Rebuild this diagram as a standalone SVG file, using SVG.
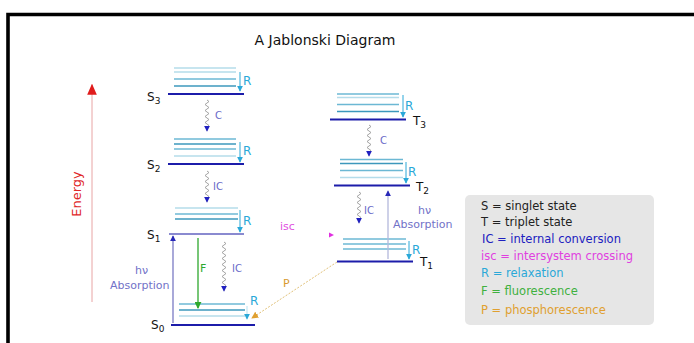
<svg xmlns="http://www.w3.org/2000/svg" width="694" height="343" viewBox="0 0 694 343">
  <style>
    text { font-family: "DejaVu Sans", "Liberation Sans", sans-serif; }
    .title { font-size: 14px; fill: #111; }
    .lvl { stroke: #1c1caa; stroke-width: 2.2; }
    .sub1 { stroke: #b4dcea; stroke-width: 1.3; }
    .sub2 { stroke: #6cb8d4; stroke-width: 1.3; }
    .sub3 { stroke: #3c98bc; stroke-width: 1.3; }
    .st { font-size: 12px; fill: #111; }
    .st tspan { font-size: 9px; }
    .rarr { stroke: #2aa8d8; stroke-width: 1; fill: none; marker-end: url(#mR); }
    .rlab { font-size: 12px; fill: #2aa8d8; }
    .wavy { stroke: #9a9a9a; stroke-width: 0.9; fill: none; marker-end: url(#mW); }
    .iclab { font-size: 10px; fill: #6a6ac8; }
    .abs { font-size: 11px; fill: #7272c8; }
    .leg { font-size: 11.5px; }
  </style>
  <defs>
    <marker id="mR" viewBox="0 0 8 8" refX="7" refY="4" markerWidth="6" markerHeight="6" markerUnits="userSpaceOnUse" orient="auto">
      <path d="M0,0 L8,4 L0,8 z" fill="#2aa8d8"/>
    </marker>
    <marker id="mW" viewBox="0 0 8 8" refX="7" refY="4" markerWidth="6" markerHeight="6" markerUnits="userSpaceOnUse" orient="auto">
      <path d="M0,0 L8,4 L0,8 z" fill="#2020c0"/>
    </marker>
    <marker id="mA" viewBox="0 0 8 8" refX="7" refY="4" markerWidth="6" markerHeight="6" markerUnits="userSpaceOnUse" orient="auto">
      <path d="M0,0 L8,4 L0,8 z" fill="#2828b8"/>
    </marker>
    <marker id="mF" viewBox="0 0 8 8" refX="7" refY="4" markerWidth="7" markerHeight="7" markerUnits="userSpaceOnUse" orient="auto">
      <path d="M0,0 L8,4 L0,8 z" fill="#2ea82e"/>
    </marker>
    <marker id="mP" viewBox="0 0 8 8" refX="7" refY="4" markerWidth="7" markerHeight="7" markerUnits="userSpaceOnUse" orient="auto">
      <path d="M0,0 L8,4 L0,8 z" fill="#e0a030"/>
    </marker>
    <marker id="mE" viewBox="0 0 8 8" refX="7" refY="4" markerWidth="11" markerHeight="11" markerUnits="userSpaceOnUse" orient="auto">
      <path d="M0,0.5 L8,4 L0,7.5 z" fill="#e01c1c"/>
    </marker>
  </defs>

  <!-- frame -->
  <path d="M8,343 V14.5 H694" fill="none" stroke="#000" stroke-width="3.6"/>

  <text class="title" x="325" y="45" text-anchor="middle">A Jablonski Diagram</text>

  <!-- energy axis -->
  <g id="energy-axis">
    <line x1="92" y1="302" x2="92" y2="85" stroke="#e8a4a4" stroke-width="1" marker-end="url(#mE)"/>
    <text x="0" y="0" transform="translate(81,194) rotate(-90)" text-anchor="middle" font-size="13" fill="#e02828">Energy</text>
  </g>

  <!-- singlet manifold -->
  <g id="S3">
    <line class="sub1" x1="174" y1="68" x2="236" y2="68"/>
    <line class="sub1" x1="174" y1="72" x2="236" y2="72"/>
    <line class="sub2" x1="174" y1="79" x2="236" y2="79"/>
    <line class="sub3" x1="174" y1="86" x2="236" y2="86"/>
    <line class="lvl" x1="168" y1="94" x2="244" y2="94"/>
    <text class="st" x="147" y="101">S<tspan dy="3">3</tspan></text>
  </g>
  <g id="S2">
    <line class="sub2" x1="174" y1="139" x2="236" y2="139"/>
    <line class="sub3" x1="174" y1="144" x2="236" y2="144"/>
    <line class="sub2" x1="174" y1="149" x2="236" y2="149"/>
    <line class="sub1" x1="174" y1="156" x2="236" y2="156"/>
    <line class="lvl" x1="168" y1="164" x2="244" y2="164"/>
    <text class="st" x="147" y="169">S<tspan dy="3">2</tspan></text>
  </g>
  <g id="S1">
    <line class="sub1" x1="175" y1="208" x2="238" y2="208"/>
    <line class="sub2" x1="175" y1="214" x2="238" y2="214"/>
    <line class="sub3" x1="175" y1="219" x2="238" y2="219"/>
    <line x1="169" y1="234" x2="244" y2="234" stroke="#8a8ad0" stroke-width="2"/>
    <text class="st" x="147" y="239">S<tspan dy="3">1</tspan></text>
  </g>
  <g id="S0">
    <line class="sub2" x1="179" y1="304" x2="245" y2="304"/>
    <line class="sub3" x1="179" y1="310" x2="245" y2="310"/>
    <line class="sub1" x1="179" y1="316" x2="245" y2="316"/>
    <line class="lvl" x1="171" y1="325" x2="255" y2="325"/>
    <text class="st" x="151" y="329">S<tspan dy="3">0</tspan></text>
  </g>

  <!-- triplet manifold -->
  <g id="T3">
    <line class="sub2" x1="337" y1="94" x2="399" y2="94"/>
    <line class="sub1" x1="337" y1="97.5" x2="399" y2="97.5"/>
    <line class="sub2" x1="337" y1="104.5" x2="399" y2="104.5"/>
    <line class="sub3" x1="337" y1="111.5" x2="399" y2="111.5"/>
    <line class="lvl" x1="330" y1="119.5" x2="406" y2="119.5"/>
    <text class="st" x="413" y="125">T<tspan dy="3">3</tspan></text>
  </g>
  <g id="T2">
    <line class="sub2" x1="340" y1="159.5" x2="403" y2="159.5"/>
    <line class="sub3" x1="340" y1="163.5" x2="403" y2="163.5"/>
    <line class="sub2" x1="340" y1="170.5" x2="403" y2="170.5"/>
    <line class="sub1" x1="340" y1="177.5" x2="403" y2="177.5"/>
    <line class="lvl" x1="334" y1="185.5" x2="410" y2="185.5"/>
    <text class="st" x="416" y="191">T<tspan dy="3">2</tspan></text>
  </g>
  <g id="T1">
    <line class="sub2" x1="343" y1="239" x2="406" y2="239"/>
    <line class="sub2" x1="343" y1="244" x2="406" y2="244"/>
    <line class="sub2" x1="343" y1="249" x2="406" y2="249"/>
    <line class="lvl" x1="337" y1="261.5" x2="413" y2="261.5"/>
    <text class="st" x="420" y="266">T<tspan dy="3">1</tspan></text>
  </g>

  <!-- transitions -->
  <g id="connectors">
    <!-- vibrational relaxation -->
    <path class="rarr" d="M240,72 V91"/>
    <path class="rarr" d="M240,142 V162"/>
    <path class="rarr" d="M240,210 V232"/>
    <path class="rarr" d="M247,306 V319" stroke-opacity="0.35"/>
    <path class="rarr" d="M403,95 V117"/>
    <path class="rarr" d="M406,162 V183"/>
    <path class="rarr" d="M409,241 V259"/>

    <!-- internal conversion -->
    <path class="wavy" d="M207,100 l2,1.5 l-4,3 l4,3 l-4,3 l4,3 l-4,3 l4,3 l-4,3 l4,3 l-2,1.5 v4"/>
    <path class="wavy" d="M207,171 l2,1.5 l-4,3 l4,3 l-4,3 l4,3 l-4,3 l4,3 l-4,3 l4,3 l-2,1.5 v4"/>
    <path class="wavy" d="M224,242 l2,1.5 l-4,3 l4,3 l-4,3 l4,3 l-4,3 l4,3 l-4,3 l4,3 l-4,3 l4,3 l-4,3 l4,3 l-4,3 l4,3 l-2,1.5 v4"/>
    <path class="wavy" d="M369,125 l2,1.5 l-4,3 l4,3 l-4,3 l4,3 l-4,3 l4,3 l-4,3 l4,3 l-2,1.5 v4"/>
    <path class="wavy" d="M359,192 l2,1.5 l-4,3 l4,3 l-4,3 l4,3 l-4,3 l4,3 l-4,3 l4,3 l-2,1.5 v4"/>

    <!-- absorption -->
    <line x1="173" y1="323" x2="173" y2="236" stroke="#7a7ac4" stroke-width="1.3" marker-end="url(#mA)"/>
    <line x1="388" y1="259" x2="388" y2="191" stroke="#b4b8dc" stroke-width="1.3" marker-end="url(#mA)"/>

    <!-- fluorescence -->
    <line x1="198" y1="238" x2="198" y2="308" stroke="#2ea82e" stroke-width="1.3" marker-end="url(#mF)"/>

    <!-- phosphorescence -->
    <line x1="337" y1="262" x2="252" y2="318" stroke="#e2c27a" stroke-width="1" stroke-dasharray="2,1.5" marker-end="url(#mP)"/>

    <!-- intersystem crossing -->
    <path d="M329,232.5 L334,235 L329,237.5 z" fill="#e030e0"/>
  </g>

  <!-- transition labels -->
  <g id="labels">
    <text class="rlab" x="243" y="85">R</text>
    <text class="rlab" x="243" y="155">R</text>
    <text class="rlab" x="243" y="225">R</text>
    <text class="rlab" x="250" y="305">R</text>
    <text class="rlab" x="405" y="110">R</text>
    <text class="rlab" x="408" y="176">R</text>
    <text class="rlab" x="412" y="254">R</text>
    <text class="iclab" x="215" y="119">C</text>
    <text class="iclab" x="213" y="190">IC</text>
    <text class="iclab" x="232" y="272">IC</text>
    <text class="iclab" x="380" y="144">C</text>
    <text class="iclab" x="364" y="214">IC</text>
    <text class="abs" x="135" y="274">hν</text>
    <text class="abs" x="110" y="289">Absorption</text>
    <text class="abs" x="418" y="214">hν</text>
    <text class="abs" x="393" y="228">Absorption</text>
    <text x="200" y="272" font-size="11" fill="#2ea82e">F</text>
    <text x="283" y="287" font-size="11" fill="#d89a30">P</text>
    <text x="280" y="230" font-size="11" fill="#e050e0">isc</text>
  </g>

  <!-- legend -->
  <g id="legend">
    <rect x="465" y="195" width="189" height="130" rx="5" fill="#e6e6e6"/>
    <text class="leg" x="481" y="210" fill="#222">S = singlet state</text>
    <text class="leg" x="481" y="226" fill="#222">T = triplet state</text>
    <text class="leg" x="482" y="243" fill="#2020c0">IC = internal conversion</text>
    <text class="leg" x="481" y="260" fill="#e040e0">isc = intersystem crossing</text>
    <text class="leg" x="481" y="277" fill="#2aa8d8">R = relaxation</text>
    <text class="leg" x="481" y="295" fill="#40b040">F = fluorescence</text>
    <text class="leg" x="481" y="314" fill="#e0a030">P = phosphorescence</text>
  </g>
</svg>
